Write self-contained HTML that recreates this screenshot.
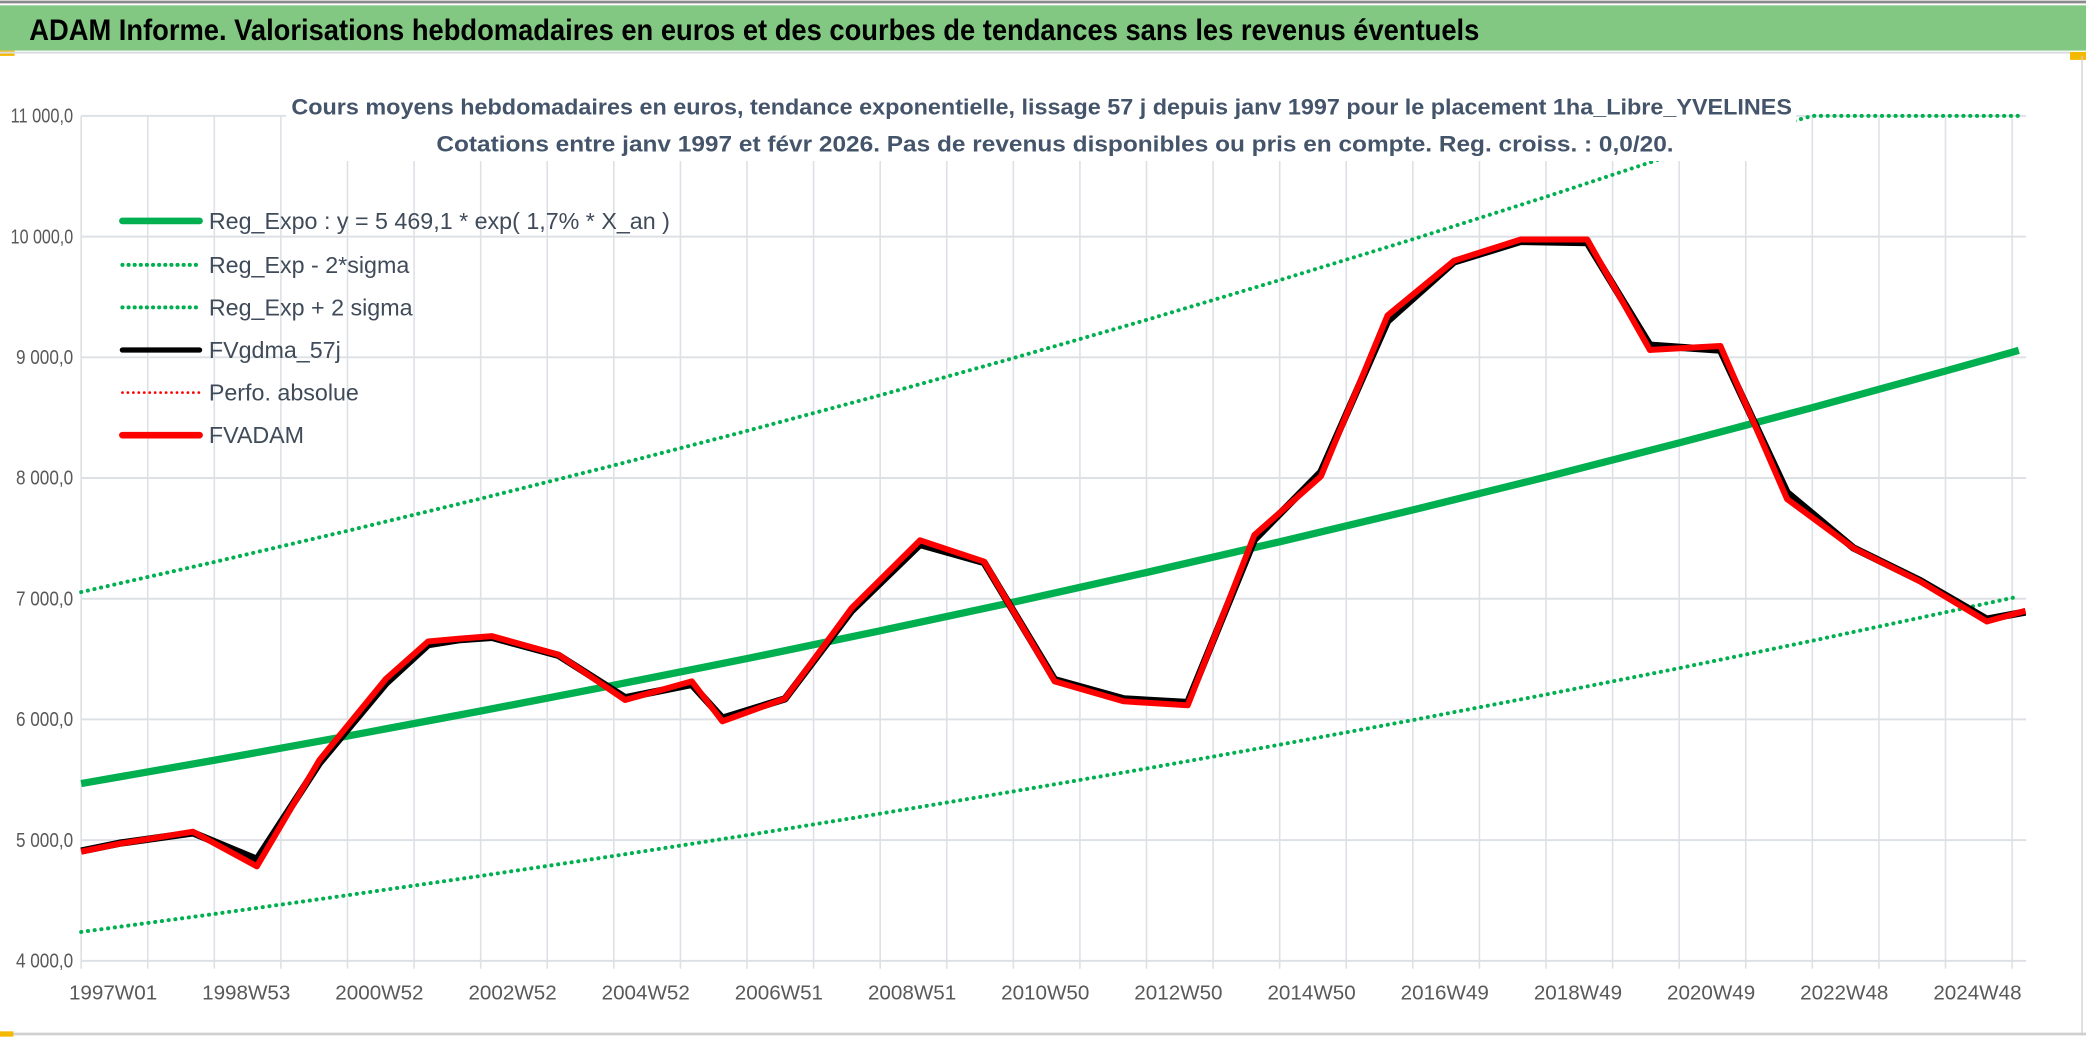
<!DOCTYPE html>
<html><head><meta charset="utf-8">
<style>
html,body{margin:0;padding:0;background:#fff;}
svg{display:block;}
text{font-family:"Liberation Sans Narrow","Liberation Sans",sans-serif;}
</style></head>
<body>
<svg id="chart" width="2086" height="1038" viewBox="0 0 1568 780" preserveAspectRatio="none" xmlns="http://www.w3.org/2000/svg">
<rect x="0" y="0" width="1568" height="780" fill="#fff"/>
<line x1="0" y1="1.5" x2="1568" y2="1.5" stroke="#8a8a8a" stroke-width="2"/>
<rect x="0" y="4" width="1568" height="34" fill="#82c882"/>
<text x="22" y="30" font-size="22" font-weight="bold" fill="#000" textLength="1090" lengthAdjust="spacingAndGlyphs">ADAM Informe. Valorisations hebdomadaires en euros et des courbes de tendances sans les revenus éventuels</text>
<rect x="0" y="38" width="11" height="4" fill="#f5b800"/>
<rect x="1556" y="39" width="12" height="6" fill="#f5b800"/>
<line x1="0" y1="39.5" x2="1556" y2="39.5" stroke="#d9dde3" stroke-width="1.5"/>
<line x1="1565" y1="42" x2="1565" y2="778" stroke="#d0d0d0" stroke-width="1"/>
<line x1="0" y1="777" x2="1568" y2="777" stroke="#d0d0d0" stroke-width="2"/>
<rect x="0" y="775" width="10" height="4" fill="#f5b800"/>
<g id="grid"></g>
<g id="axes"></g>
<g id="series"></g>
<rect x="215" y="63" width="1135" height="58" fill="#fff"/>
<text x="783" y="86" font-size="17" font-weight="bold" fill="#44546a" text-anchor="middle" textLength="1128" lengthAdjust="spacingAndGlyphs">Cours moyens hebdomadaires en euros, tendance exponentielle, lissage 57 j depuis janv 1997 pour le placement 1ha_Libre_YVELINES</text>
<text x="793" y="114" font-size="17" font-weight="bold" fill="#44546a" text-anchor="middle" textLength="930" lengthAdjust="spacingAndGlyphs">Cotations entre janv 1997 et févr 2026. Pas de revenus disponibles ou pris en compte. Reg. croiss. : 0,0/20.</text>
<g id="legend"></g>
</svg>
<script>
const yTicks = [4000,5000,6000,7000,8000,9000,10000,11000];
const yTickLabels = ["4 000,0","5 000,0","6 000,0","7 000,0","8 000,0","9 000,0","10 000,0","11 000,0"];
const xTickYears = [0,2,4,6,8,10,12,14,16,18,20,22,24,26,28];
const xTickLabels = ["1997W01","1998W53","2000W52","2002W52","2004W52","2006W51","2008W51","2010W50","2012W50","2014W50","2016W49","2018W49","2020W49","2022W48","2024W48"];
const trendT = [0,2,4,6,8,10,12,14,16,18,20,22,24,26,28,29.1];
const trendVals = [5469,5662,5862,6069,6283,6504,6734,6971,7217,7472,7735,8008,8291,8583,8886,9057];
const upperVals = [7055,7304,7562,7829,8105,8390,8686,8993,9310,9639,9978,10330,10695,11072,11463,11690];
const lowerVals = [4239,4388,4543,4703,4869,5041,5219,5403,5593,5791,5995,6206,6425,6652,6887,7019];
const fvT = [0,0.58,1.68,2.64,3.58,4.58,5.21,5.67,6.17,7.17,8.17,9.17,9.63,10.57,11.57,12.6,13.56,14.62,15.66,16.62,17.62,18.62,19.62,20.62,21.62,22.62,23.56,24.62,25.62,26.62,27.62,28.62,29.2];
const fvadamVals = [4904,4970,5070,4783,5665,6337,6646,6668,6690,6536,6161,6315,5985,6172,6922,7484,7308,6315,6150,6117,7528,8013,9347,9800,9976,9976,9061,9094,7826,7418,7142,6811,6900];
const fvgdmaVals = [4910,4975,5060,4840,5640,6300,6620,6660,6680,6530,6180,6290,6010,6170,6900,7450,7300,6330,6170,6140,7490,8050,9300,9790,9960,9950,9100,9060,7880,7420,7150,6830,6890];

const X0=61, XPY=50.05, Y0=722, YPK=90.7;
const xs = t => X0 + t*XPY;
const ys = v => Y0 - (v-4000)/1000*YPK;
const NS="http://www.w3.org/2000/svg";
function mk(tag, attrs, parent){const e=document.createElementNS(NS,tag);for(const k in attrs)e.setAttribute(k,attrs[k]);parent.appendChild(e);return e;}
const grid=document.getElementById('grid'), axes=document.getElementById('axes'), series=document.getElementById('series'), legend=document.getElementById('legend');
const xEnd=1523;
for(let i=0;i<yTicks.length;i++){
  const y=ys(yTicks[i]);
  const g=mk('line',{x1:X0,x2:xEnd,y1:y,y2:y,stroke:'#dde1e6','stroke-width':1.5},grid);
  
  
  const lbl=yTickLabels[i];
  const t=mk('text',{x:55,y:y+5,'font-size':15,fill:'#595959','text-anchor':'end',textLength:lbl.length>7?47:43,lengthAdjust:'spacingAndGlyphs'},axes);
  
  
  t.textContent=lbl;
}
for(let yr=0;yr<=29;yr++){
  const x=xs(yr);
  const g=mk('line',{x1:x,x2:x,y1:ys(11000),y2:ys(4000)+6,stroke:'#dde1e6','stroke-width':1.2},grid);
  
  
}
for(let i=0;i<xTickYears.length;i++){
  const t=mk('text',{x:xs(xTickYears[i])+24,y:751,'font-size':15.5,fill:'#595959','text-anchor':'middle'},axes);
  
  
  t.textContent=xTickLabels[i];
}
function path(ts, vs, clamp){
  return ts.map((t,i)=>(i?'L':'M')+xs(t).toFixed(1)+','+ys(clamp?Math.min(vs[i],11000):vs[i]).toFixed(1)).join(' ');
}
let p;
p=mk('path',{d:path(trendT,upperVals,true),fill:'none',stroke:'#00b050','stroke-width':3,'stroke-dasharray':'0.1 5','stroke-linecap':'round'},series);


p=mk('path',{d:path(trendT,lowerVals),fill:'none',stroke:'#00b050','stroke-width':3,'stroke-dasharray':'0.1 5','stroke-linecap':'round'},series);


p=mk('path',{d:path(trendT,trendVals),fill:'none',stroke:'#00b050','stroke-width':5.5},series);


p=mk('path',{d:path(fvT,fvgdmaVals),fill:'none',stroke:'#000','stroke-width':5.5,'stroke-linejoin':'round'},series);


p=mk('path',{d:path(fvT,fvadamVals),fill:'none',stroke:'#ff0000','stroke-width':4.5,'stroke-linejoin':'round'},series);



const legItems=[
 ['Reg_Expo : y = 5 469,1 * exp( 1,7% *  X_an )','#00b050',5,null,'legend-reg-expo'],
 ['Reg_Exp - 2*sigma','#00b050',3,'0.1 4.5','legend-reg-exp-minus'],
 ['Reg_Exp + 2 sigma','#00b050',3,'0.1 4.5','legend-reg-exp-plus'],
 ['FVgdma_57j','#000',4,null,'legend-fvgdma'],
 ['Perfo. absolue','#ff0000',2,'0.1 4','legend-perfo-absolue'],
 ['FVADAM','#ff0000',5,null,'legend-fvadam']];
const legY=[166,199,231,263,295,327];
legItems.forEach((it,i)=>{
  const y=legY[i];
  const a={x1:92,x2:150,y1:y,y2:y,stroke:it[1],'stroke-width':it[2],'stroke-linecap':'round'};
  if(it[3])a['stroke-dasharray']=it[3];
  const l=mk('line',a,legend);
  
  
  const t=mk('text',{x:157,y:y+6,'font-size':17.5,fill:'#404b5a'},legend);
  
  
  t.textContent=it[0];
});
</script>
</body></html>
